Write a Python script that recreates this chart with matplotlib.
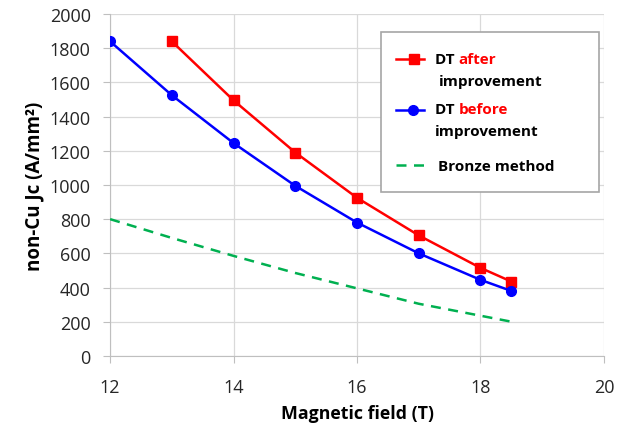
import matplotlib
matplotlib.use("Agg")
import matplotlib.pyplot as plt
from matplotlib.lines import Line2D
from matplotlib.patches import Rectangle

plt.rcParams["font.family"] = ["Open Sans", "DejaVu Sans"]

field_after = [13, 14, 15, 16, 17, 18, 18.5]
jc_after = [1840, 1495, 1190, 925, 705, 515, 435]

field_before = [12, 13, 14, 15, 16, 17, 18, 18.5]
jc_before = [1840, 1525, 1245, 995, 780, 600, 445, 380]

field_bronze = [12, 13, 14, 15, 16, 17, 18, 18.5]
jc_bronze = [800, 690, 585, 485, 395, 305, 235, 200]

xticks = [12, 14, 16, 18, 20]
yticks = list(range(0, 2001, 200))

fig = plt.figure(figsize=(6.33, 4.31), dpi=100)
ax = fig.add_axes([0.174, 0.172, 0.780, 0.793])

ax.plot(field_after, jc_after, color="#ff0000", lw=1.8, marker="s", ms=7, zorder=3)
ax.plot(field_before, jc_before, color="#0000ff", lw=1.8, marker="o", ms=7, zorder=3)
ax.plot(field_bronze, jc_bronze, color="#00b050", lw=1.8, ls=(0, (4, 3)), zorder=3)

ax.set_xlim(12, 20)
ax.set_ylim(0, 2000)
ax.set_xticks(xticks)
ax.set_yticks(yticks)
ax.tick_params(axis="both", labelsize=13, length=5, colors="#262626")
ax.tick_params(axis="both", color="#bfbfbf")
ax.tick_params(axis="y", pad=9)
ax.tick_params(axis="x", pad=11)
ax.grid(True, color="#d9d9d9", lw=0.9)
ax.set_axisbelow(True)
for side in ["top", "right"]:
    ax.spines[side].set_visible(False)
for side in ["left", "bottom"]:
    ax.spines[side].set_color("#bfbfbf")

ax.set_xlabel("Magnetic field (T)", fontsize=12.8, fontweight="bold", labelpad=6)
ax.set_ylabel("non-Cu Jc (A/mm²)", fontsize=13.5, fontweight="bold", labelpad=4)

# hand-drawn legend with coloured words
tr = ax.transAxes
box = Rectangle((0.549, 0.480), 0.441, 0.467, transform=tr, facecolor="white",
                edgecolor="#a6a6a6", lw=1.2, zorder=5)
ax.add_patch(box)

def row_y(py):
    return (357 - py) / 342

def row_x(px):
    return (px - 110) / 494

ax.add_line(Line2D([row_x(396), row_x(424)], [row_y(60)] * 2, color="#ff0000", lw=1.8,
                   transform=tr, zorder=6))
ax.add_line(Line2D([row_x(414)], [row_y(60)], color="#ff0000", marker="s", ms=7,
                   transform=tr, zorder=6))
ax.add_line(Line2D([row_x(396), row_x(424)], [row_y(111)] * 2, color="#0000ff", lw=1.8,
                   transform=tr, zorder=6))
ax.add_line(Line2D([row_x(413)], [row_y(111)], color="#0000ff", marker="o", ms=7,
                   transform=tr, zorder=6))
ax.add_line(Line2D([row_x(396), row_x(424)], [row_y(166)] * 2, color="#00b050", lw=1.8,
                   ls=(0, (4, 3)), transform=tr, zorder=6))

kw = dict(fontsize=11, fontweight="bold", va="center", ha="left", zorder=7)
t1 = ax.text(row_x(435), row_y(60), "DT ", transform=tr, color="black", **kw)
ax.annotate("after", xy=(1, 0.5), xycoords=t1, color="#ff0000", **kw)
ax.text(row_x(439), row_y(82), "improvement", transform=tr, color="black", **kw)
t2 = ax.text(row_x(435), row_y(110), "DT ", transform=tr, color="black", **kw)
ax.annotate("before", xy=(1, 0.5), xycoords=t2, color="#ff0000", **kw)
ax.text(row_x(435), row_y(132), "improvement", transform=tr, color="black", **kw)
ax.text(row_x(438), row_y(167), "Bronze method", transform=tr, color="black", **kw)

fig.savefig("out.png", dpi=100)
